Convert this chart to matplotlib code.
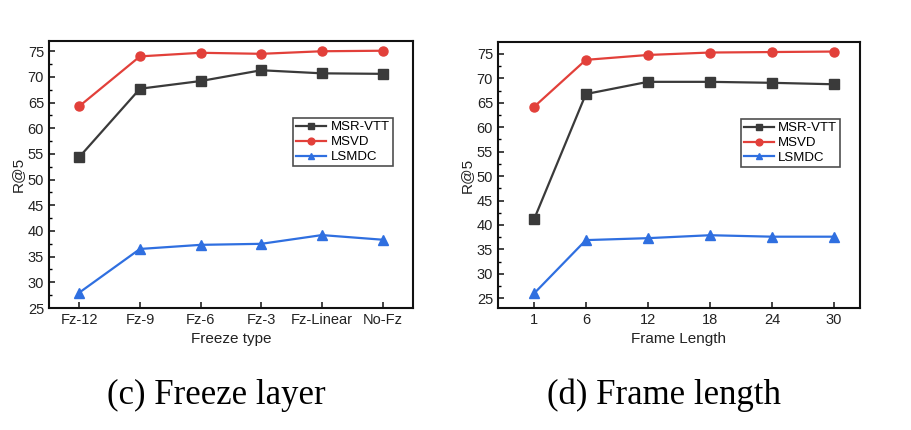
import matplotlib.pyplot as plt
import numpy as np
from matplotlib.ticker import MultipleLocator

plt.rcParams['font.family'] = ['Liberation Sans', 'DejaVu Sans']

freeze_types = ['Fz-12', 'Fz-9', 'Fz-6', 'Fz-3', 'Fz-Linear', 'No-Fz']
freeze_msrvtt = [54.4, 67.7, 69.2, 71.3, 70.7, 70.6]
freeze_msvd = [64.3, 74.0, 74.7, 74.5, 75.0, 75.1]
freeze_lsmdc = [28.0, 36.5, 37.3, 37.5, 39.2, 38.3]

frame_lengths = [1, 6, 12, 18, 24, 30]
frame_msrvtt = [41.2, 66.8, 69.3, 69.3, 69.1, 68.8]
frame_msvd = [64.2, 73.8, 74.8, 75.3, 75.4, 75.5]
frame_lsmdc = [26.0, 36.9, 37.3, 37.9, 37.6, 37.6]

series_names = ['MSR-VTT', 'MSVD', 'LSMDC']
colors = ['#3a3a3a', '#e2403a', '#2f6fe0']
markers = ['s', 'o', '^']

fig = plt.figure(figsize=(9.12, 4.30), dpi=100)
ax1 = fig.add_axes([0.0537, 0.2837, 0.399, 0.621])
ax2 = fig.add_axes([0.546, 0.2837, 0.397, 0.618])


def draw(ax, x, ys, xlabel):
    for y, name, c, m in zip(ys, series_names, colors, markers):
        ax.plot(x, y, color=c, marker=m, markersize=6.5, linewidth=1.6, label=name)
    ax.set_xlabel(xlabel, fontsize=11, color='#222222', labelpad=4)
    ax.set_ylabel('R@5', fontsize=11, color='#222222', labelpad=2)
    ax.yaxis.set_major_locator(MultipleLocator(5))
    ax.yaxis.set_minor_locator(MultipleLocator(2.5))
    ax.tick_params(axis='both', direction='in', labelsize=10.5, colors='#222222',
                   width=1.2, length=4, top=False, right=False)
    ax.tick_params(axis='y', which='minor', direction='in', length=2.5, width=1.0)
    for s in ax.spines.values():
        s.set_linewidth(1.5)
        s.set_color('#111111')
    leg = ax.legend(loc='upper left', bbox_to_anchor=(0.67, 0.712), borderaxespad=0,
                    fontsize=9.5, frameon=True, fancybox=False, handlelength=2.3,
                    handletextpad=0.3, borderpad=0.25, labelspacing=0.2, markerscale=0.75)
    leg.get_frame().set_edgecolor('#222222')
    leg.get_frame().set_linewidth(1.2)


x1 = np.arange(len(freeze_types))
draw(ax1, x1, [freeze_msrvtt, freeze_msvd, freeze_lsmdc], 'Freeze type')
ax1.set_xticks(x1)
ax1.set_xticklabels(freeze_types)
ax1.set_xlim(-0.5, 5.5)
ax1.set_ylim(25, 77)

draw(ax2, frame_lengths, [frame_msrvtt, frame_msvd, frame_lsmdc], 'Frame Length')
ax2.set_xticks(frame_lengths)
ax2.set_xlim(-2.5, 32.5)
ax2.set_ylim(23, 77.4)

fig.text(0.237, 0.06, '(c) Freeze layer', fontsize=25, family='Liberation Serif', ha='center')
fig.text(0.728, 0.06, '(d) Frame length', fontsize=25, family='Liberation Serif', ha='center')

plt.savefig('out.png', dpi=100)
